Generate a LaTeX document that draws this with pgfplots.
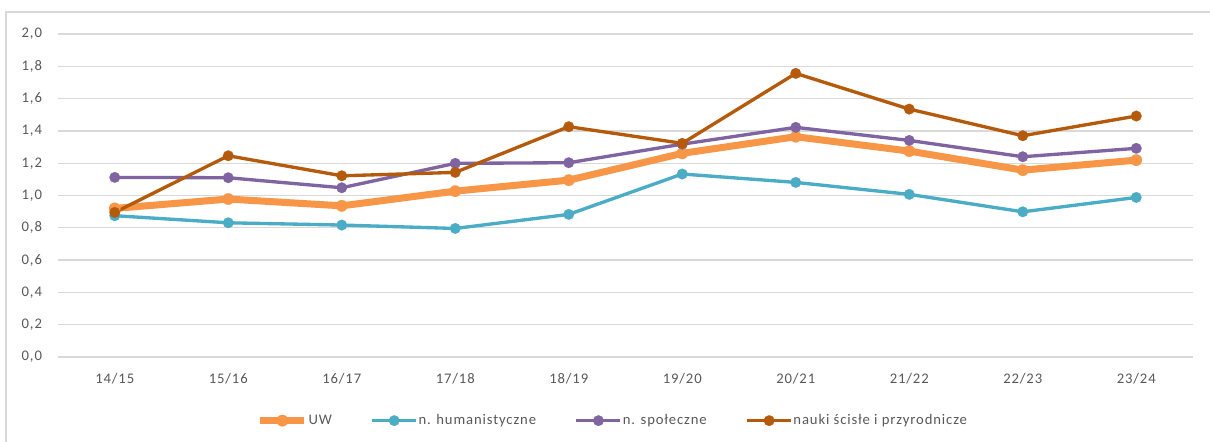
\documentclass[border=0pt]{standalone}
\usepackage{fontspec}
\setmainfont{Carlito}[LetterSpace=6]
\usepackage{pgfplots}
\pgfplotsset{compat=1.18}
\definecolor{cUW}{HTML}{F79646}
\definecolor{cHum}{HTML}{4BACC6}
\definecolor{cSpo}{HTML}{8064A2}
\definecolor{cSci}{HTML}{B45A0A}
\definecolor{cGrid}{HTML}{D9D9D9}
\definecolor{cText}{HTML}{595959}
\begin{document}
\begin{tikzpicture}
\useasboundingbox (-43.5pt,-63.75pt) rectangle (864pt,267.75pt);
\fill[white] (-43.5pt,-63.75pt) rectangle (864pt,267.75pt);
\draw[cGrid, line width=1pt] (-39pt,-80pt) -- (-39pt,258.75pt) -- (880pt,258.75pt);
\begin{axis}[
  at={(0,0)}, anchor=south west,
  scale only axis,
  width=851.25pt, height=242.25pt,
  xmin=-0.5, xmax=9.5,
  ymin=0, ymax=2.0,
  xtick={0,...,9},
  xticklabels={14/15,15/16,16/17,17/18,18/19,19/20,20/21,21/22,22/23,23/24},
  ytick={0,0.2,...,2.0},
  axis line style={draw=none},
  major tick length=0pt,
  ymajorgrids,
  grid style={cGrid, line width=1pt},
  font=\fontsize{11}{13}\selectfont,
  tick label style={text=cText, font=\fontsize{11}{13}\selectfont},
  yticklabel style={xshift=-8.5pt},
  xticklabel style={yshift=-8.4pt},
  /pgf/number format/.cd, assume math mode=true, use comma, fixed, fixed zerofill, precision=1,
  /pgfplots/.cd,
  clip=false,
  legend columns=-1,
  legend style={at={(0.4886,-0.197)}, anchor=center, draw=none, fill=none,
    font=\fontsize{11}{13}\selectfont, text=cText,
    /tikz/every odd column/.append style={column sep=-0.5pt},
    /tikz/every even column/.append style={column sep=28pt},
    nodes={inner xsep=1pt}},
  legend image code/.code={\draw[mark repeat=2,mark phase=2,#1] plot coordinates {(0pt,0pt) (16.5pt,0pt) (33pt,0pt)};},
]
\addplot[cUW, line width=5.25pt, mark=*, mark size=4.3pt, mark options={draw=cUW, line width=0.1pt, fill=cUW}] coordinates {
(0,0.920) (1,0.978) (2,0.936) (3,1.027) (4,1.095) (5,1.261) (6,1.364) (7,1.275) (8,1.157) (9,1.219)};
\addlegendentry{UW}
\addplot[cHum, line width=2.5pt, mark=*, mark size=4pt, mark options={draw=cHum, line width=0.1pt, fill=cHum}] coordinates {
(0,0.875) (1,0.831) (2,0.817) (3,0.796) (4,0.883) (5,1.133) (6,1.081) (7,1.007) (8,0.899) (9,0.988)};
\addlegendentry{n. humanistyczne}
\addplot[cSpo, line width=2.5pt, mark=*, mark size=4pt, mark options={draw=cSpo, line width=0.1pt, fill=cSpo}] coordinates {
(0,1.112) (1,1.110) (2,1.048) (3,1.199) (4,1.203) (5,1.318) (6,1.422) (7,1.341) (8,1.240) (9,1.292)};
\addlegendentry{n. społeczne}
\addplot[cSci, line width=2.5pt, mark=*, mark size=4pt, mark options={draw=cSci, line width=0.1pt, fill=cSci}] coordinates {
(0,0.895) (1,1.246) (2,1.122) (3,1.143) (4,1.426) (5,1.323) (6,1.756) (7,1.535) (8,1.370) (9,1.492)};
\addlegendentry{nauki ścisłe i przyrodnicze}
\end{axis}
\end{tikzpicture}
\end{document}
